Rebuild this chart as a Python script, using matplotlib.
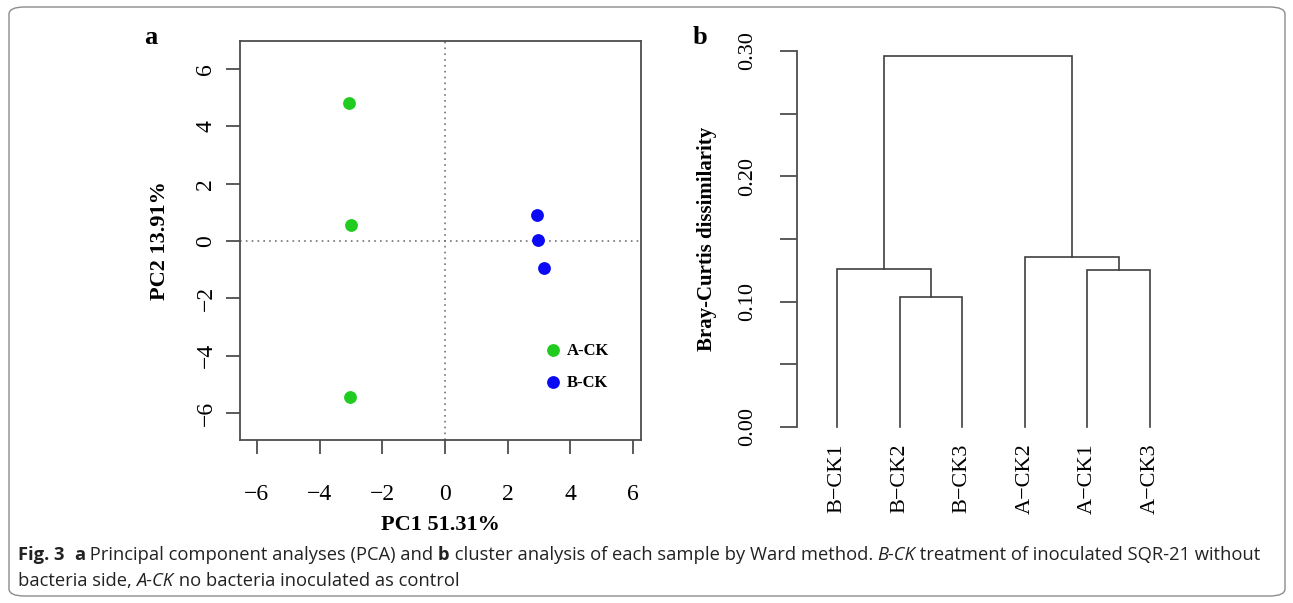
import matplotlib
matplotlib.use("Agg")
import matplotlib.pyplot as plt
from matplotlib.patches import FancyBboxPatch

# --- data -------------------------------------------------------------
a_ck_x = [-3.05, -3.00, -3.02]
a_ck_y = [4.81, 0.56, -5.44]
b_ck_x = [2.94, 2.97, 3.16]
b_ck_y = [0.91, 0.03, -0.94]

leaf_labels = ["B\u2212CK1", "B\u2212CK2", "B\u2212CK3", "A\u2212CK2", "A\u2212CK1", "A\u2212CK3"]
# merges: (child a, child b, height); leaves are 0..5, new nodes 6, 7, ...
merge_a = [1, 4, 0, 3, 8]
merge_b = [2, 5, 6, 7, 9]
merge_h = [0.1035, 0.1252, 0.1261, 0.1354, 0.2962]

serif = "Liberation Serif"
W, H = 1293, 603
fig = plt.figure(figsize=(W / 100, H / 100), dpi=100)


def px(x0, y0, x1, y1):
    return [x0 / W, 1 - y1 / H, (x1 - x0) / W, (y1 - y0) / H]


# --- panel a: PCA -----------------------------------------------------
ax = fig.add_axes(px(240, 41, 641, 440))
ax.axhline(0, color="0.45", ls=(0, (1, 2.5)), lw=1.2, zorder=1)
ax.axvline(0, color="0.45", ls=(0, (1, 2.5)), lw=1.2, zorder=1)
ax.scatter(a_ck_x, a_ck_y, s=85, color="#1fcc1f", label="A-CK", zorder=3, linewidths=0)
ax.scatter(b_ck_x, b_ck_y, s=85, color="#0a0af5", label="B-CK", zorder=3, linewidths=0)
ax.set_xlim(-6.54, 6.26)
ax.set_ylim(-6.94, 6.98)
ax.set_xticks(range(-6, 7, 2))
ax.set_yticks(range(-6, 7, 2))
ax.set_xticklabels([f"{v}".replace("-", "\u2212") for v in range(-6, 7, 2)],
                   fontsize=17, family=serif)
ax.set_yticklabels([f"{v}".replace("-", "\u2212") for v in range(-6, 7, 2)],
                   fontsize=17, family=serif, rotation=90, va="center")
ax.tick_params(axis="x", length=10, width=1.3, color="0.3", pad=22)
ax.tick_params(axis="y", length=10, width=1.3, color="0.3", pad=7)
for s in ax.spines.values():
    s.set_color("0.3")
    s.set_linewidth(1.3)
ax.set_xlabel("PC1 51.31%", fontsize=16, family=serif, fontweight="bold", labelpad=7)
ax.set_ylabel("PC2 13.91%", fontsize=16, family=serif, fontweight="bold", labelpad=18)
ax.legend(loc="center left", bbox_to_anchor=(0.765, 0.184), frameon=False,
          prop={"family": serif, "weight": "bold", "size": 12},
          handlelength=0.8, handletextpad=0.4, labelspacing=0.95,
          borderpad=0, borderaxespad=0, scatterpoints=1, markerscale=1.0)
fig.text(151 / W, 1 - 38 / H, "a", family=serif, fontweight="bold", fontsize=19,
         ha="center", va="center")

# --- panel b: dendrogram ----------------------------------------------
bx = fig.add_axes(px(797, 51, 1190, 427))
node_x = list(range(1, len(leaf_labels) + 1))
node_h = [0.0] * len(leaf_labels)
for a, b, h in zip(merge_a, merge_b, merge_h):
    xa, xb = node_x[a], node_x[b]
    bx.plot([xa, xa, xb, xb], [node_h[a], h, h, node_h[b]], color="0.25", lw=1.2,
            clip_on=False, solid_joinstyle="miter")
    node_x.append((xa + xb) / 2)
    node_h.append(h)
bx.set_xlim(1 - 40 / 62.6, 6 + 40 / 62.6)
bx.set_ylim(0, 0.30)
for side in ["top", "right", "bottom"]:
    bx.spines[side].set_visible(False)
bx.spines["left"].set_color("0.3")
bx.spines["left"].set_linewidth(1.3)
yt = [0, 0.05, 0.10, 0.15, 0.20, 0.25, 0.30]
bx.set_yticks(yt)
bx.set_yticklabels(["0.00", "", "0.10", "", "0.20", "", "0.30"], fontsize=16,
                   family=serif, rotation=90, va="center")
bx.tick_params(axis="y", length=12, width=1.3, color="0.3", pad=17)
bx.set_xticks(range(1, len(leaf_labels) + 1))
bx.set_xticklabels(leaf_labels, fontsize=16, family=serif, rotation=90)
bx.tick_params(axis="x", length=0, pad=12)
bx.set_ylabel("Bray-Curtis dissimilarity", fontsize=15, family=serif,
              fontweight="bold", labelpad=15)
fig.text(700 / W, 1 - 38 / H, "b", family=serif, fontweight="bold", fontsize=19,
         ha="center", va="center")

# --- caption ----------------------------------------------------------
cap_font = ["Open Sans", "DejaVu Sans"]
cap_size = 13.25
line1 = [("Fig. 3", "bold", "normal"), ("  ", "normal", "normal"), ("a", "bold", "normal"),
         (" Principal component analyses (PCA) and ", "normal", "normal"),
         ("b", "bold", "normal"),
         (" cluster analysis of each sample by Ward method. ", "normal", "normal"),
         ("B-CK", "normal", "italic"),
         (" treatment of inoculated SQR-21 without", "normal", "normal")]
line2 = [("bacteria side, ", "normal", "normal"), ("A-CK", "normal", "italic"),
         (" no bacteria inoculated as control", "normal", "normal")]

renderer = fig.canvas.get_renderer()


def runs(parts, x, y):
    for txt, weight, style in parts:
        t = fig.text(x / W, 1 - y / H, txt, family=cap_font, fontsize=cap_size,
                     fontweight=weight, fontstyle=style, va="center", ha="left",
                     color="#222222")
        ext = t.get_window_extent(renderer)
        x += ext.width


runs(line1, 18, 555)
runs(line2, 18, 581)

frame = FancyBboxPatch((9 / W, 7 / H), 1276 / W, 589 / H,
                       boxstyle="round,pad=0,rounding_size=0.012",
                       transform=fig.transFigure, fill=False, ec="0.55", lw=1.0)
fig.patches.append(frame)

fig.savefig("out.png", dpi=100)
